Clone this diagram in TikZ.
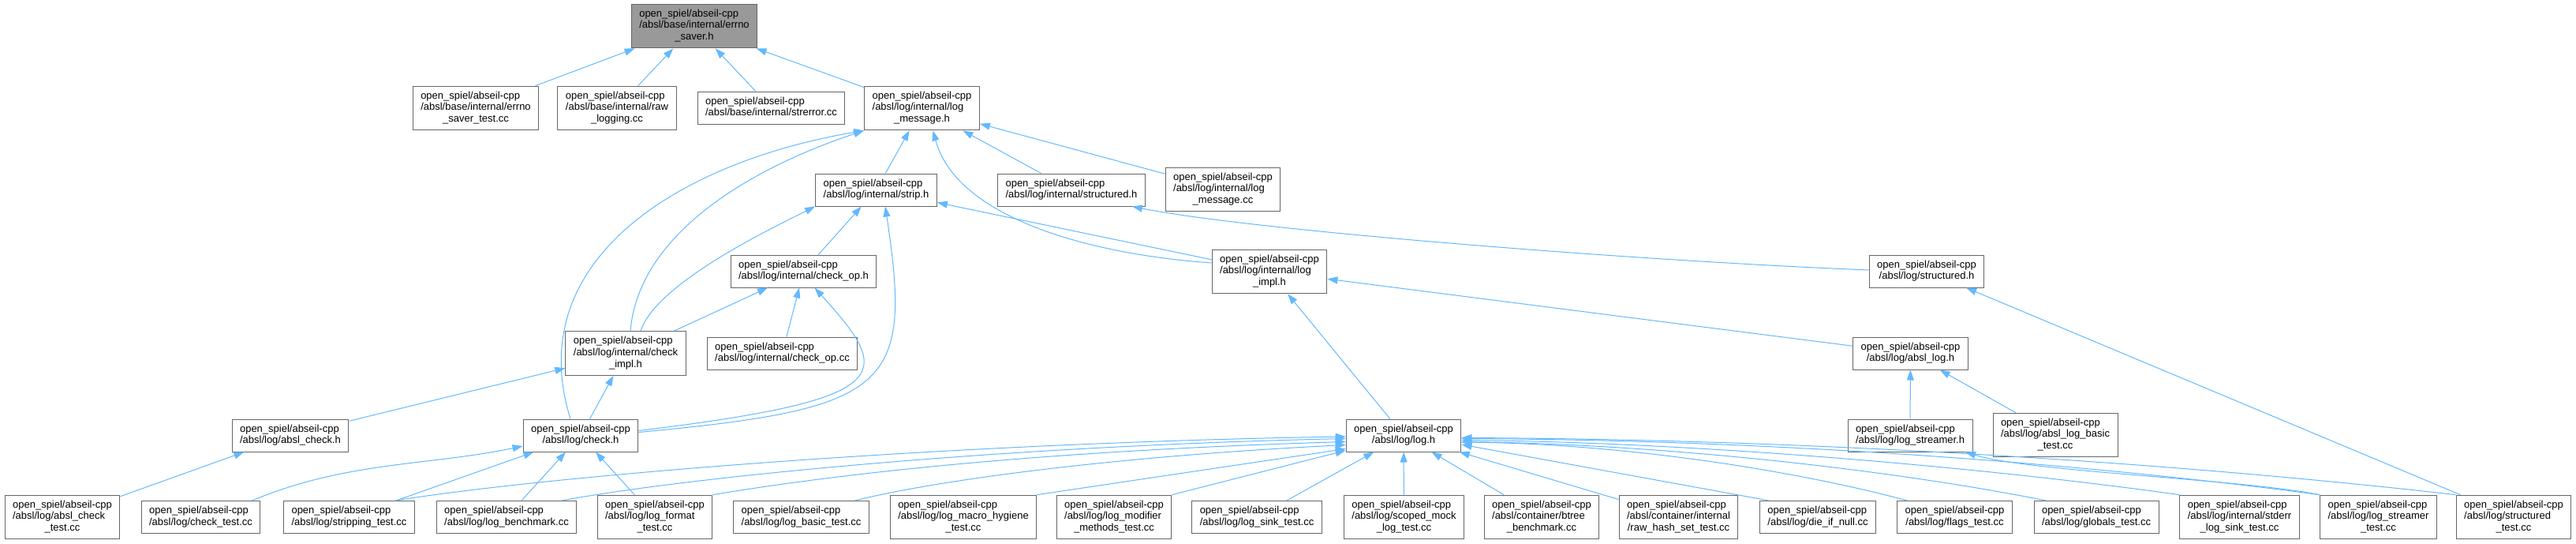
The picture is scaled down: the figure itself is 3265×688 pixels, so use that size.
\documentclass[tikz,border=0pt]{standalone}
\usepackage{fontspec}
\setmainfont{Liberation Sans}
\usetikzlibrary{arrows.meta}

\definecolor{edgeblue}{HTML}{63B8FF}
\definecolor{boxline}{HTML}{666666}
\definecolor{rootgrey}{HTML}{999999}

% file labels: first lines left, last line centred
\newcommand{\pth}[1]{\begin{tabular}{@{}l@{}}open\_spiel/abseil-cpp\\\multicolumn{1}{@{}c@{}}{#1}\end{tabular}}
\newcommand{\pthh}[2]{\begin{tabular}{@{}l@{}}open\_spiel/abseil-cpp\\#1\\\multicolumn{1}{@{}c@{}}{#2}\end{tabular}}

\tikzset{
  file/.style={draw=boxline, line width=1pt, fill=white, inner xsep=10pt, inner ysep=5.8pt,
    font=\fontsize{13}{14.7}\selectfont},
  rootfile/.style={file, fill=rootgrey},
  dep/.style={draw=edgeblue, line width=1pt, -{Triangle[length=13pt,width=9pt]}}
}

\begin{document}
\begin{tikzpicture}[x=1pt, y=-1pt]
  \useasboundingbox (0,0) rectangle (3265,688);

  % top rows
  \node[rootfile] (root) at (880,33) {\pthh{/absl/base/internal/errno}{\_saver.h}};
  \node[file] (est) at (603,137) {\pthh{/absl/base/internal/errno}{\_saver\_test.cc}};
  \node[file] (rawl) at (782,137) {\pthh{/absl/base/internal/raw}{\_logging.cc}};
  \node[file] (strerr) at (977.5,136.5) {\pth{/absl/base/internal/strerror.cc}};
  \node[file] (lmh) at (1168.5,137) {\pthh{/absl/log/internal/log}{\_message.h}};
  \node[file] (strip) at (1110.5,240.5) {\pth{/absl/log/internal/strip.h}};
  \node[file] (istruct) at (1358,240.5) {\pth{/absl/log/internal/structured.h}};
  \node[file] (lmcc) at (1550,240) {\pthh{/absl/log/internal/log}{\_message.cc}};
  \node[file] (limpl) at (1609,344) {\pthh{/absl/log/internal/log}{\_impl.h}};
  \node[file] (struct) at (2442,343.5) {\pth{/absl/log/structured.h}};
  \node[file] (checkop) at (1018.5,343.5) {\pth{/absl/log/internal/check\_op.h}};
  \node[file] (cimpl) at (793,447.5) {\pthh{/absl/log/internal/check}{\_impl.h}};
  \node[file] (checkopcc) at (991.5,447.5) {\pth{/absl/log/internal/check\_op.cc}};
  \node[file] (abslog) at (2421.5,447.5) {\pth{/absl/log/absl\_log.h}};
  \node[file] (abslchk) at (368,551.5) {\pth{/absl/log/absl\_check.h}};
  \node[file] (check) at (736,551.5) {\pth{/absl/log/check.h}};
  \node[file] (log) at (1779,551.5) {\pth{/absl/log/log.h}};
  \node[file] (lstrh) at (2421,551.5) {\pth{/absl/log/log\_streamer.h}};
  \node[file] (albt) at (2605,551) {\pthh{/absl/log/absl\_log\_basic}{\_test.cc}};

  % bottom row
  \node[file] (act) at (79,655) {\pthh{/absl/log/absl\_check}{\_test.cc}};
  \node[file] (ctest) at (254.5,655) {\pth{/absl/log/check\_test.cc}};
  \node[file] (stest) at (442.5,655) {\pth{/absl/log/stripping\_test.cc}};
  \node[file] (lbench) at (642,655) {\pth{/absl/log/log\_benchmark.cc}};
  \node[file] (lfmt) at (830,655) {\pthh{/absl/log/log\_format}{\_test.cc}};
  \node[file] (lbasic) at (1015.5,655) {\pth{/absl/log/log\_basic\_test.cc}};
  \node[file] (lmacro) at (1221,655) {\pthh{/absl/log/log\_macro\_hygiene}{\_test.cc}};
  \node[file] (lmod) at (1412,655) {\pthh{/absl/log/log\_modifier}{\_methods\_test.cc}};
  \node[file] (lsink) at (1593,655) {\pth{/absl/log/log\_sink\_test.cc}};
  \node[file] (smock) at (1779.5,655) {\pthh{/absl/log/scoped\_mock}{\_log\_test.cc}};
  \node[file] (btree) at (1954,655) {\pthh{/absl/container/btree}{\_benchmark.cc}};
  \node[file] (rhs) at (2127.5,655) {\pthh{/absl/container/internal}{/raw\_hash\_set\_test.cc}};
  \node[file] (die) at (2304,655) {\pth{/absl/log/die\_if\_null.cc}};
  \node[file] (flags) at (2477.5,655) {\pth{/absl/log/flags\_test.cc}};
  \node[file] (globals) at (2657,655) {\pth{/absl/log/globals\_test.cc}};
  \node[file] (stderr) at (2838.5,655) {\pthh{/absl/log/internal/stderr}{\_log\_sink\_test.cc}};
  \node[file] (lstest) at (3014.5,655) {\pthh{/absl/log/log\_streamer}{\_test.cc}};
  \node[file] (sttest) at (3186,655) {\pthh{/absl/log/structured}{\_test.cc}};

  % errno_saver.h
  \draw[dep] (est) -- (root);
  \draw[dep] (rawl) -- (root);
  \draw[dep] (strerr) -- (root);
  \draw[dep] (lmh) -- (root);
  % log_message.h
  \draw[dep] ([xshift=-13pt]check.north) .. controls +(-63,-201) and +(-235,40) .. (lmh.south west);
  \draw[dep] ([xshift=6pt]cimpl.north) .. controls +(10,-120) and +(-150,50) .. (lmh.south west);
  \draw[dep] (strip) -- (lmh);
  \draw[dep] ([yshift=11pt]limpl.west) .. controls +(-156,-11) and +(30,110) .. ([xshift=14pt]lmh.south);
  \draw[dep] (istruct) -- (lmh);
  \draw[dep] (lmcc) -- (lmh);
  % strip.h
  \draw[dep] ([xshift=19pt]cimpl.north) .. controls +(20,-60) and +(-60,30) .. (strip.south west);
  \draw[dep] (checkop) -- (strip);
  \draw[dep] ([yshift=4pt]check.east) .. controls +(320,-30) and +(35,230) .. ([xshift=11.5pt]strip.south);
  \draw[dep] (limpl) -- (strip);
  % internal/structured.h
  \draw[dep] ([yshift=1.5pt]struct.west) .. controls +(-300,-12) and +(150,30) .. ([xshift=-17pt]istruct.south east);
  % check_op.h
  \draw[dep] (cimpl) -- (checkop);
  \draw[dep] (checkopcc) -- (checkop);
  \draw[dep] ([yshift=6pt]check.east) .. controls +(330,-40) and +(100,110) .. ([xshift=14pt]checkop.south);
  % check_impl.h
  \draw[dep] (abslchk) -- (cimpl);
  \draw[dep] (check) -- (cimpl);
  % log_impl.h, structured.h, absl_log.h, log_streamer.h
  \draw[dep] (log) -- (limpl);
  \draw[dep] (abslog) -- (limpl);
  \draw[dep] (sttest) -- (struct);
  \draw[dep] (lstrh) -- (abslog);
  \draw[dep] (albt) -- (abslog);
  \draw[dep] (lstest.north west) .. controls +(-100,-20) and +(80,25) .. ([xshift=70pt]lstrh.south);
  % absl_check.h, check.h
  \draw[dep] (act) -- (abslchk);
  \draw[dep] ([xshift=65pt]ctest.north) .. controls +(120,-50) and +(-120,25) .. ([yshift=-13.5pt]check.west);
  \draw[dep] (stest) -- (check);
  \draw[dep] (lbench) -- (check);
  \draw[dep] (lfmt) -- (check);
  % log.h from the left
  \draw[dep] ([xshift=58pt]stest.north) .. controls +(200,-32) and +(-500,8) .. ([yshift=-1.5pt]log.west);
  \draw[dep] ([xshift=70pt]lbench.north) .. controls +(150,-28) and +(-450,10) .. ([yshift=-4pt]log.west);
  \draw[dep] (lfmt.north east) .. controls +(150,-25) and +(-400,12) .. ([yshift=-8pt]log.west);
  \draw[dep] ([xshift=68pt]lbasic.north) .. controls +(100,-25) and +(-300,15) .. ([yshift=-12pt]log.west);
  \draw[dep] (lmacro.north east) -- ([yshift=-17pt]log.west);
  \draw[dep] (lmod.north east) -- ([yshift=-19pt]log.west);
  % log.h from below
  \draw[dep] (lsink) -- (log);
  \draw[dep] (smock) -- (log);
  \draw[dep] (btree) -- (log);
  \draw[dep] (rhs) -- (log);
  % log.h from the right
  \draw[dep] ([xshift=-62pt]die.north) -- ([yshift=-11.5pt]log.east);
  \draw[dep] ([xshift=-60pt]flags.north) .. controls +(-150,-40) and +(200,2) .. ([yshift=-8.5pt]log.east);
  \draw[dep] ([xshift=-64pt]globals.north) .. controls +(-200,-40) and +(250,3) .. ([yshift=-8pt]log.east);
  \draw[dep] (stderr.north west) .. controls +(-250,-35) and +(300,3) .. ([yshift=-6pt]log.east);
  \draw[dep] (lstest.north west) .. controls +(-300,-40) and +(400,2) .. ([yshift=-4pt]log.east);
  \draw[dep] (sttest.north west) .. controls +(-350,-40) and +(450,2) .. ([yshift=-3pt]log.east);
\end{tikzpicture}
\end{document}
